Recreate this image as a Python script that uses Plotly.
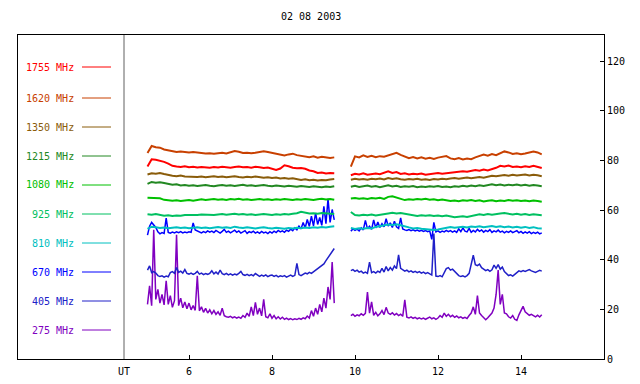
import plotly.graph_objects as go

# time grids (UT hours)
t_seg1 = [round(5.0 + 0.1 * i, 2) for i in range(46)]
t_seg2 = [round(9.9 + 0.1 * i, 2) for i in range(47)]
tf_seg1 = [round(5.0 + 0.05 * i, 2) for i in range(91)]
tf_seg2 = [round(9.9 + 0.05 * i, 2) for i in range(93)]

f1755_a = [77.5, 80.4, 80.2, 79.9, 79.4, 78.7, 77.8, 77.5, 77.3, 77.6,
           77.2, 77.4, 77.1, 77.3, 77.2, 77.0, 77.3, 77.1, 77.4, 77.2,
           77.0, 77.3, 77.5, 77.2, 77.3, 77.0, 77.4, 77.2, 76.9, 77.1,
           76.5, 76.1, 76.7, 78.0, 77.6, 77.0, 76.8, 76.9, 76.6, 75.9,
           75.6, 74.9, 75.1, 74.7, 74.9, 74.8]
f1755_b = [74.0, 74.6, 74.3, 74.8, 74.2, 74.5, 74.7, 74.4, 75.0, 75.6,
           74.9, 75.3, 74.5, 74.8, 74.3, 74.6, 74.4, 74.7, 74.2, 74.5,
           74.6, 74.9, 74.6, 74.8, 75.0, 75.4, 75.3, 75.6, 75.4, 75.8,
           76.1, 75.8, 76.3, 75.9, 76.4, 77.0, 77.8, 77.5, 77.9, 77.3,
           77.5, 77.2, 77.6, 77.3, 77.8, 77.4, 76.9]

f1620_a = [83.0, 85.8, 85.3, 85.1, 84.4, 84.1, 83.6, 83.4, 83.6, 83.3,
           83.2, 83.4, 83.1, 82.9, 82.8, 82.9, 82.7, 82.9, 83.1, 82.8,
           83.2, 83.8, 83.5, 83.0, 83.1, 82.9, 83.1, 83.3, 83.7, 83.4,
           83.0, 82.7, 82.4, 82.0, 82.4, 82.7, 82.1, 81.8, 81.6, 81.3,
           81.6, 81.1, 81.4, 81.2, 81.0, 81.2]
f1620_b = [77.5, 81.6, 81.2, 82.0, 81.4, 81.8, 81.3, 81.7, 81.5, 81.9,
           82.3, 83.0, 82.2, 81.4, 80.9, 81.3, 80.8, 81.2, 80.7, 81.0,
           80.6, 81.1, 81.4, 81.7, 80.8, 80.5, 80.9, 80.4, 80.7, 80.5,
           81.2, 81.8, 82.3, 81.9, 82.5, 82.1, 83.0, 83.6, 83.2, 82.6,
           82.9, 82.5, 82.8, 83.1, 83.6, 83.2, 82.4]

f1350_a = [74.3, 74.8, 74.6, 74.9, 74.5, 74.0, 73.8, 73.6, 73.9, 73.5,
           73.4, 73.6, 73.3, 73.5, 73.2, 73.4, 73.6, 73.3, 73.5, 73.2,
           73.4, 73.6, 73.3, 73.1, 73.4, 73.2, 73.5, 73.3, 73.0, 73.2,
           72.9, 73.1, 72.7, 72.9, 72.6, 72.8, 72.3, 72.1, 72.4, 72.0,
           72.2, 71.9, 72.1, 72.0, 72.3, 72.5]
f1350_b = [72.2, 72.6, 72.3, 72.5, 72.2, 72.6, 72.4, 72.7, 72.3, 72.9,
           72.5, 72.8, 72.4, 72.2, 72.5, 72.3, 72.6, 72.2, 72.4, 72.1,
           72.5, 72.3, 72.6, 72.4, 72.7, 72.9, 72.6, 72.9, 73.1, 72.8,
           73.0, 73.3, 73.0, 73.5, 73.8, 73.6, 73.9, 74.1, 73.8, 74.2,
           73.9, 74.1, 74.3, 73.9, 74.2, 74.0, 73.6]

f1215_a = [70.5, 71.3, 71.0, 71.2, 70.9, 70.5, 70.2, 70.4, 69.9, 70.1,
           69.8, 70.0, 69.7, 69.9, 70.1, 69.8, 69.6, 69.9, 70.1, 69.8,
           70.0, 69.7, 69.9, 70.2, 69.8, 70.0, 69.7, 69.9, 70.1, 69.8,
           69.6, 69.9, 69.7, 69.5, 69.8, 69.6, 69.4, 69.7, 69.5, 69.3,
           69.6, 69.4, 69.2, 69.5, 69.3, 69.6]
f1215_b = [69.4, 69.8, 69.3, 69.6, 69.9, 69.4, 69.7, 69.2, 69.6, 70.0,
           69.5, 69.8, 69.3, 69.6, 69.4, 69.7, 69.2, 69.5, 69.3, 69.6,
           69.4, 69.7, 69.3, 69.5, 69.2, 69.6, 69.4, 69.8, 69.5, 69.9,
           69.6, 70.0, 69.7, 70.1, 70.4, 70.0, 70.3, 69.9, 70.2, 70.0,
           70.3, 69.9, 70.2, 69.8, 70.1, 69.9, 69.6]

f1080_a = [64.9, 64.8, 64.6, 64.7, 64.1, 63.9, 63.7, 63.9, 63.6, 63.8,
           64.0, 63.7, 64.1, 64.3, 64.0, 64.2, 64.4, 64.1, 64.3, 64.0,
           64.4, 64.2, 64.5, 64.1, 64.3, 64.0, 64.2, 64.4, 64.1, 64.3,
           64.0, 64.3, 64.1, 64.4, 64.2, 64.0, 64.3, 64.1, 64.4, 64.2,
           64.0, 64.3, 64.5, 64.2, 64.4, 64.1]
f1080_b = [64.6, 64.8, 64.5, 64.7, 64.4, 64.8, 64.6, 64.9, 64.5, 65.3,
           65.5, 65.0, 64.4, 64.0, 64.3, 64.1, 64.4, 64.2, 64.5, 64.1,
           64.3, 63.9, 64.2, 64.0, 63.6, 63.8, 63.5, 63.9, 63.7, 64.0,
           63.6, 63.9, 63.4, 63.7, 63.9, 63.5, 63.8, 63.6, 64.0, 63.7,
           63.9, 63.6, 63.8, 63.5, 63.8, 63.6, 63.3]

f925_a = [58.3, 58.1, 58.4, 58.0, 57.7, 57.9, 57.6, 57.8, 57.7, 58.0,
          57.9, 58.1, 58.0, 58.2, 58.1, 58.3, 58.0, 58.2, 58.4, 58.1,
          58.3, 58.5, 58.2, 58.4, 58.1, 58.3, 58.0, 58.2, 58.4, 58.2,
          58.0, 58.3, 58.1, 58.4, 58.2, 58.5, 58.7, 59.3, 58.8, 58.6,
          58.7, 58.5, 58.8, 58.6, 58.7, 58.4]
f925_b = [59.2, 58.0, 57.8, 58.1, 57.9, 58.2, 57.8, 58.0, 58.3, 58.6,
          58.9, 58.6, 58.8, 58.5, 58.1, 57.8, 57.6, 57.9, 57.7, 57.9,
          57.6, 57.8, 57.5, 57.8, 57.3, 57.1, 57.3, 57.5, 57.2, 57.6,
          57.9, 58.3, 58.0, 58.4, 58.1, 58.2, 58.6, 58.8, 58.4, 58.2,
          58.5, 58.1, 58.4, 58.0, 58.3, 58.1, 57.9]

f810_a = [52.4, 53.3, 53.1, 52.8, 53.0, 52.7, 52.9, 53.1, 52.8, 53.0,
          52.7, 52.9, 53.1, 52.8, 53.0, 52.7, 52.9, 53.2, 52.9, 53.1,
          52.8, 53.3, 53.0, 52.8, 53.1, 52.9, 52.6, 52.9, 53.1, 52.8,
          52.6, 52.9, 52.7, 52.5, 52.8, 52.6, 52.9, 52.7, 53.0, 52.8,
          53.1, 52.9, 53.2, 53.0, 53.3, 53.5]
f810_b = [52.8, 52.4, 52.7, 52.5, 52.8, 52.6, 53.2, 53.6, 53.9, 54.2,
          54.0, 54.3, 53.9, 53.6, 53.0, 52.6, 52.8, 52.5, 52.3, 52.1,
          52.0, 52.2, 52.6, 52.9, 53.2, 52.9, 53.1, 53.3, 53.0, 53.4,
          53.2, 53.5, 53.1, 53.4, 53.6, 53.2, 53.5, 53.1, 53.4, 53.0,
          53.3, 52.9, 53.2, 52.8, 53.1, 52.7, 52.6]

f670_a = [49.9, 53.5, 55.0, 54.2, 53.0, 51.2, 50.4, 50.9, 50.6, 56.7,
          51.0, 50.7, 51.1, 50.8, 51.2, 50.9, 51.3, 50.8, 51.1, 50.9,
          51.2, 51.0, 54.8, 52.0, 51.5, 51.2, 50.8, 51.3, 50.9, 51.6,
          51.1, 51.5, 50.9, 51.8, 51.2, 50.7, 51.4, 52.2, 51.0, 51.5,
          50.8, 51.3, 51.9, 51.0, 51.6, 50.7, 51.2, 51.7, 50.6, 51.3,
          50.9, 51.5, 50.7, 51.2, 50.6, 51.4, 50.8, 51.1, 50.5, 51.3,
          50.7, 51.5, 50.9, 51.8, 51.2, 51.6, 51.0, 51.9, 51.4, 52.3,
          51.7, 52.8, 52.0, 53.5, 52.4, 55.0, 52.8, 56.2, 53.4, 57.5,
          53.6, 58.8, 54.2, 57.0, 53.8, 61.5, 54.5, 64.5, 55.0, 60.2,
          56.0]
f670_b = [51.5, 52.4, 51.8, 52.3, 51.6, 52.8, 52.0, 55.8, 52.5, 53.5,
          52.2, 56.0, 52.8, 55.2, 53.0, 54.5, 53.2, 56.5, 53.5, 54.8,
          53.0, 55.5, 53.2, 52.6, 56.8, 52.4, 52.0, 51.8, 52.1, 51.7,
          52.0, 51.6, 51.9, 51.5, 51.8, 51.4, 51.7, 51.3, 51.6, 48.2,
          55.0, 51.2, 51.6, 51.0, 51.5, 51.2, 51.8, 51.3, 51.7, 51.1,
          51.6, 51.0, 52.4, 51.3, 52.8, 51.5, 51.2, 52.6, 51.0, 51.8,
          51.2, 52.2, 51.4, 52.0, 51.1, 51.8, 51.3, 52.1, 51.0, 51.6,
          51.2, 51.9, 51.1, 51.5, 50.8, 51.4, 51.0, 51.6, 50.9, 51.3,
          51.7, 50.8, 51.4, 50.6, 51.2, 50.7, 51.3, 50.5, 51.0, 50.6,
          51.1, 50.4, 50.8]

f405_a = [35.8, 37.5, 34.8, 35.2, 34.6, 33.6, 33.2, 33.5, 33.0, 33.4,
          33.1, 34.8, 35.2, 34.5, 36.8, 34.9, 35.4, 34.6, 36.0, 34.5,
          34.2, 34.6, 34.1, 34.5, 35.3, 34.2, 34.6, 34.0, 34.4, 34.1,
          34.5, 35.5, 34.3, 35.0, 34.2, 35.8, 34.4, 34.0, 34.5, 33.9,
          34.3, 33.8, 34.2, 33.9, 34.5, 35.3, 34.0, 33.7, 34.1, 33.6,
          34.0, 33.5, 34.4, 33.7, 33.3, 33.8, 33.4, 33.9, 33.2, 33.6,
          33.8, 33.3, 33.7, 33.1, 33.5, 33.2, 33.6, 33.0, 33.4, 33.8,
          33.3, 33.7, 38.5, 34.0, 33.6, 34.2, 34.6, 34.3, 34.9, 34.5,
          35.1, 35.6, 36.2, 36.8, 37.5, 38.3, 39.6, 40.8, 41.8, 42.8,
          44.5]
f405_b = [35.6, 36.0, 35.3, 35.8, 35.0, 35.4, 34.6, 35.0, 34.5, 39.0,
          34.8, 35.2, 34.6, 35.4, 34.9, 36.5, 35.0, 37.2, 35.5, 36.8,
          35.8, 37.5, 36.4, 41.9, 36.5, 36.0, 35.4, 35.8, 35.1, 35.5,
          34.9, 35.3, 34.8, 35.2, 34.6, 35.0, 34.4, 34.8, 34.2, 33.8,
          50.5, 33.4, 33.2, 33.6, 33.1, 34.5, 36.4, 36.8, 35.8, 36.2,
          35.3, 34.4, 33.6, 33.2, 33.5, 33.1, 33.6, 34.5, 38.5, 41.8,
          38.0, 37.6, 38.2, 36.8, 36.2, 35.6, 36.0, 35.3, 35.9, 37.8,
          36.5, 38.0, 36.2, 37.0, 35.2, 34.3, 33.6, 33.9, 33.4, 34.1,
          35.0, 35.5, 35.2, 35.6, 35.3, 35.8, 36.0, 35.5, 35.2, 34.9,
          35.3, 35.7, 35.4]

f275_a = [22.0, 29.5, 21.5, 52.0, 24.0, 28.0, 22.5, 26.0, 21.8, 31.5,
          22.0, 25.5, 20.8, 23.5, 50.0, 21.5, 24.5, 20.6, 23.0, 20.2,
          22.5, 19.8, 21.5, 19.6, 33.5, 19.4, 21.0, 18.8, 20.4, 18.5,
          19.8, 18.2, 19.5, 18.0, 19.0, 17.6, 20.5, 17.4, 17.0, 16.8,
          17.2, 16.6, 17.0, 16.5, 16.9, 16.4, 17.5, 16.8, 18.5, 17.2,
          21.0, 17.5, 22.8, 18.0, 20.5, 17.4, 24.0, 17.0, 16.6, 18.2,
          16.4, 17.5, 16.2, 17.0, 16.1, 16.8, 16.0, 16.5, 15.9, 16.3,
          15.8, 16.2, 15.9, 16.4, 16.0, 16.6, 16.2, 17.3, 16.5, 19.5,
          17.2, 20.5, 18.0, 22.0, 19.0, 24.5, 20.5, 29.0, 24.0, 39.0,
          22.5]
f275_b = [17.5, 18.0, 17.2, 17.8, 17.4, 18.2, 17.6, 18.4, 27.0, 18.5,
          23.0, 17.6, 18.8, 17.4, 18.2, 19.5, 17.9, 20.8, 18.5, 18.0,
          18.6, 17.7, 18.3, 17.5, 18.0, 17.2, 23.8, 16.8, 16.5, 17.0,
          16.4, 16.8, 16.2, 16.6, 16.1, 16.5, 16.0, 16.4, 16.9, 16.2,
          16.6, 16.0, 16.5, 17.5, 16.8, 18.5, 17.2, 18.0, 17.0, 17.6,
          16.8, 17.3, 16.6, 17.0, 16.4, 16.8, 16.3, 17.5, 18.5, 21.0,
          18.0, 25.5, 18.5, 17.5, 16.5, 15.8, 16.6, 17.8, 18.5, 20.5,
          26.0, 35.8, 22.0, 26.0, 18.5, 18.2, 17.0, 16.5, 17.5, 16.0,
          15.5, 17.8, 19.5, 21.2, 19.0, 18.2, 17.6, 18.0, 17.4, 17.0,
          17.6, 16.9, 17.8]

legend_labels = ["1755 MHz", "1620 MHz", "1350 MHz", "1215 MHz", "1080 MHz",
                 "925 MHz", "810 MHz", "670 MHz", "405 MHz", "275 MHz"]
colors = ["#ff0000", "#c84000", "#8a5c0a", "#228822", "#00c000",
          "#00c060", "#00c0c0", "#0000ff", "#2020c8", "#8000c0"]

series = [
    (t_seg1, t_seg2, f1755_a, f1755_b),
    (t_seg1, t_seg2, f1620_a, f1620_b),
    (t_seg1, t_seg2, f1350_a, f1350_b),
    (t_seg1, t_seg2, f1215_a, f1215_b),
    (t_seg1, t_seg2, f1080_a, f1080_b),
    (t_seg1, t_seg2, f925_a, f925_b),
    (t_seg1, t_seg2, f810_a, f810_b),
    (tf_seg1, tf_seg2, f670_a, f670_b),
    (tf_seg1, tf_seg2, f405_a, f405_b),
    (tf_seg1, tf_seg2, f275_a, f275_b),
]
widths = [2, 2, 2, 2, 2, 2, 2, 1.5, 1.5, 1.5]

FONT = "DejaVu Sans Mono"
fig = go.Figure()

order = [9, 8, 7, 6, 5, 4, 3, 2, 1, 0]
for i in order:
    ta, tb, ya, yb = series[i]
    fig.add_trace(go.Scatter(
        x=ta + [None] + tb, y=ya + [None] + yb, mode="lines",
        line=dict(color=colors[i], width=widths[i]), name=legend_labels[i],
        showlegend=False, connectgaps=False, hoverinfo="skip"))

W, H = 640, 384
L, R, T, B = 18, 604, 35, 359

def px_to_paper_x(px):
    return (px - L) / (R - L)

def py_to_paper_y(py):
    return (B - py) / (B - T)

legend_rows = [67, 98, 127, 156, 185, 214, 243, 272, 301, 330]
annotations = []
shapes = []
for lab, col, ry in zip(legend_labels, colors, legend_rows):
    annotations.append(dict(
        x=px_to_paper_x(76), y=py_to_paper_y(ry), xref="paper", yref="paper",
        text=lab, showarrow=False, xanchor="right", yanchor="middle",
        font=dict(family=FONT, size=10, color=col)))
    shapes.append(dict(
        type="line", xref="paper", yref="paper",
        x0=px_to_paper_x(82), x1=px_to_paper_x(111),
        y0=py_to_paper_y(ry), y1=py_to_paper_y(ry),
        line=dict(color=col, width=1)))

shapes.append(dict(type="line", xref="x", yref="paper", x0=4.434, x1=4.434,
                   y0=0, y1=1, line=dict(color="#606060", width=1)))

annotations.append(dict(
    x=0.5, y=py_to_paper_y(17), xref="paper", yref="paper",
    text="02 08 2003", showarrow=False, xanchor="center", yanchor="middle",
    font=dict(family=FONT, size=10, color="black")))
annotations.append(dict(
    x=4.434, y=py_to_paper_y(371), xref="x", yref="paper",
    text="UT", showarrow=False, xanchor="center", yanchor="middle",
    font=dict(family=FONT, size=10, color="black")))

x_lo = 6 - (189 - L) / 41.5
x_hi = 6 + (R - 189) / 41.5
y_hi = (B - T) / 2.483

fig.update_layout(
    width=W, height=H,
    margin=dict(l=L, r=W - R, t=T, b=H - B, pad=0, autoexpand=False),
    paper_bgcolor="white", plot_bgcolor="white",
    showlegend=False,
    annotations=annotations, shapes=shapes,
    xaxis=dict(range=[x_lo, x_hi], tickvals=[6, 8, 10, 12, 14],
               ticktext=["6", "8", "10", "12", "14"],
               ticks="inside", ticklen=4, tickcolor="black",
               ticklabelstandoff=3, automargin=False,
               showline=True, linecolor="black", linewidth=1, mirror=True,
               showgrid=False, zeroline=False,
               tickfont=dict(family=FONT, size=10, color="black")),
    yaxis=dict(range=[0, y_hi], tickvals=[0, 20, 40, 60, 80, 100, 120],
               side="right", ticks="inside", ticklen=4, tickcolor="black",
               automargin=False,
               showline=True, linecolor="black", linewidth=1, mirror=True,
               showgrid=False, zeroline=False,
               tickfont=dict(family=FONT, size=10, color="black")),
)

fig.write_html("out.html", config={"displayModeBar": False},
               post_script="document.body.style.margin='0px';document.body.style.overflow='hidden';")
